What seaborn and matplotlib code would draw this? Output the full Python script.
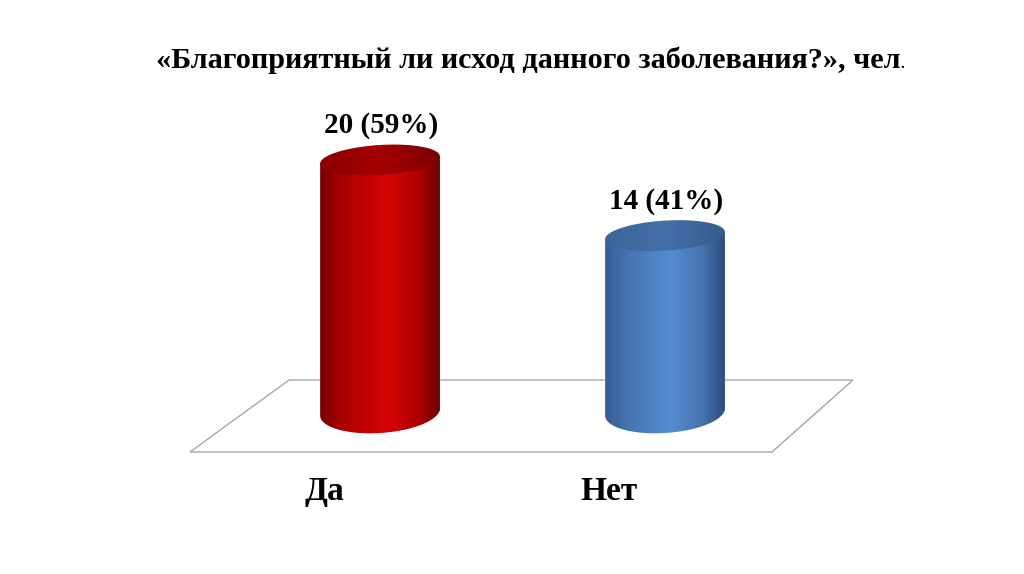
import matplotlib
matplotlib.use("Agg")
import matplotlib.pyplot as plt
from matplotlib.colors import LinearSegmentedColormap
from matplotlib.patches import Polygon
import numpy as np
import pandas as pd
import seaborn as sns

# data
answers = ["Да", "Нет"]
counts = [20, 14]
shares = [59, 41]
title = "«Благоприятный ли исход данного заболевания?», чел"

body_stops = [
    [(0.0, "#780000"), (0.18, "#a80000"), (0.55, "#d60404"), (0.82, "#b00000"), (1.0, "#6e0000")],
    [(0.0, "#375f96"), (0.2, "#4774b2"), (0.55, "#558dd0"), (0.82, "#4672ae"), (1.0, "#2c4c7c")],
]
cap_stops = [
    [(0.0, "#8a0000"), (0.5, "#a40000"), (1.0, "#7c0000")],
    [(0.0, "#3b6499"), (0.5, "#4470a8"), (1.0, "#355b8e")],
]
base_colors = ["#c00000", "#4f81bd"]

sns.set_style("white")
plt.rcParams['font.family'] = ['Liberation Serif', 'DejaVu Serif']
plt.rcParams['text.color'] = 'black'

W, H = 1024, 574
px_y = 12.6          # pixels per count
y_lo, y_hi = -6, 26  # room for the ellipses
fig = plt.figure(figsize=(W / 100, H / 100), dpi=100)
ax = fig.add_axes([237.5 / W, (H - 412 + y_lo * px_y) / H, 570 / W, (y_hi - y_lo) * px_y / H])

df = pd.DataFrame({"answer": answers, "count": counts})
sns.barplot(data=df, x="answer", y="count", hue="answer", palette=base_colors,
            width=0.42, legend=False, ax=ax, zorder=3, saturation=1)
ax.axis("off")

px_x = 570 / len(answers)
k = (7 / px_y) / (117 / px_x)  # slight tilt of the ellipses
b_top = 15 / px_y
b_bot = 21 / px_y

# floor (grey parallelogram) in figure pixels, behind the axes
floor = Polygon([(289 / W, 1 - 380 / H), (853 / W, 1 - 380 / H),
                 (772 / W, 1 - 452 / H), (190 / W, 1 - 452 / H)],
                closed=True, transform=fig.transFigure, facecolor="white",
                edgecolor="#a6a6a6", lw=1.0, zorder=-5)
fig.patches.append(floor)

t = np.linspace(0, 2 * np.pi, 200)
for i, p in enumerate(ax.patches[:len(answers)]):
    x0, w, h = p.get_x(), p.get_width(), p.get_height()
    xc, a = x0 + w / 2, w / 2

    # body outline: sides + lower half of bottom ellipse
    tb = np.linspace(np.pi, 2 * np.pi, 100)
    bx = xc + a * np.cos(tb)
    by = b_bot * np.sin(tb) + k * (bx - xc)
    verts = [(x0, h - k * a)] + list(zip(bx, by)) + [(x0 + w, h + k * a)]
    body = Polygon(verts, closed=True, transform=ax.transData, facecolor="none",
                   edgecolor="none")
    ax.add_patch(body)
    p.set_clip_path(body)

    cmap = LinearSegmentedColormap.from_list(f"b{i}", body_stops[i])
    im = ax.imshow(np.linspace(0, 1, 256)[None, :], cmap=cmap, aspect="auto",
                   extent=[x0, x0 + w, -3 * b_bot, h + 3 * b_top], zorder=4)
    im.set_clip_path(body)

    # top cap
    cx = xc + a * np.cos(t)
    cy = h + b_top * np.sin(t) + k * (cx - xc)
    cap = Polygon(list(zip(cx, cy)), closed=True, transform=ax.transData,
                  facecolor="none", edgecolor="none")
    ax.add_patch(cap)
    cmap2 = LinearSegmentedColormap.from_list(f"c{i}", cap_stops[i])
    im2 = ax.imshow(np.linspace(0, 1, 256)[None, :], cmap=cmap2, aspect="auto",
                    extent=[x0, x0 + w, h - 3 * b_top, h + 3 * b_top], zorder=5)
    im2.set_clip_path(cap)

    ax.annotate(f"{counts[i]} ({shares[i]}%)", xy=(xc, h + b_top), xytext=(1, 4),
                textcoords="offset points", ha="center", va="bottom",
                fontsize=21, fontweight="bold", annotation_clip=False)
    ax.annotate(answers[i], xy=(xc, 0), xytext=(-40, -57),
                textcoords="offset points", ha="center", va="center",
                fontsize=24, fontweight="bold", annotation_clip=False)

ax.set_xlim(-0.5, len(answers) - 0.5)
ax.set_ylim(y_lo, y_hi)

tt = fig.text(528 / W, 1 - 68 / H, title, ha="center", va="baseline",
              fontsize=21.8, fontweight="bold")
fig.canvas.draw()
bb = tt.get_window_extent()
fig.text(bb.x1 / W, 1 - 68 / H, ".", ha="left", va="baseline", fontsize=11,
         fontweight="bold")

fig.savefig("out.png", dpi=100, facecolor="white")
